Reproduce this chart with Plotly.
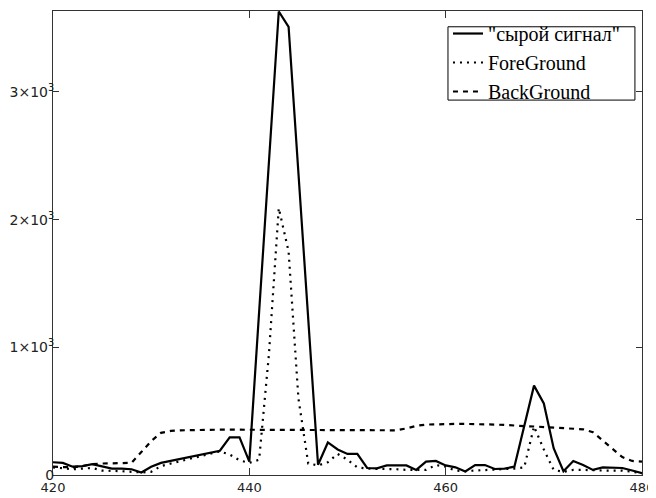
import plotly.graph_objects as go

x_vals = list(range(420, 481))

raw_signal = [100, 95, 65, 70, 85, 65, 50, 50, 45, 20,
              65, 95, 110, 125, 145, 160, 175, 190, 295, 295,
              105, 1290, 2460, 3630, 3510, 2370, 1220, 80, 255, 200,
              165, 165, 55, 52, 75, 75, 75, 40, 105, 110,
              75, 60, 28, 78, 78, 47, 50, 65, 380, 700,
              560, 210, 30, 110, 78, 40, 60, 60, 55, 35,
              15]

foreground = [60, 50, 45, 50, 55, 35, 35, 30, 25, 20,
              25, 70, 90, 110, 130, 150, 165, 185, 160, 115,
              95, 120, 950, 2090, 1750, 600, 90, 75, 100, 165,
              120, 60, 50, 50, 50, 45, 40, 40, 40, 78,
              65, 35, 30, 35, 38, 40, 45, 50, 60, 380,
              200, 40, 25, 40, 40, 35, 35, 35, 35, 25,
              13]

background = [65, 60, 60, 70, 85, 90, 90, 90, 95, 180,
              265, 330, 345, 350, 352, 355, 355, 355, 355, 355,
              355, 355, 355, 355, 355, 355, 355, 355, 355, 350,
              350, 350, 350, 350, 350, 350, 365, 385, 395, 398,
              400, 400, 400, 400, 398, 395, 392, 385, 383, 380,
              375, 372, 368, 362, 358, 335, 270, 200, 140, 110,
              105]

series_names = ['"сырой сигнал"', "ForeGround", "BackGround"]

x_tick_vals = [420, 440, 460, 480]
x_tick_text = ["420", "440", "460", "480"]
y_tick_vals = [0, 1000, 2000, 3000]
y_tick_text = ["0", "1×10<sup>3</sup>", "2×10<sup>3</sup>", "3×10<sup>3</sup>"]

fig = go.Figure()
fig.add_trace(go.Scatter(x=x_vals, y=raw_signal, mode="lines", name=series_names[0],
                         line=dict(color="black", width=2.2)))
fig.add_trace(go.Scatter(x=x_vals, y=foreground, mode="lines", name=series_names[1],
                         line=dict(color="black", width=2.2, dash="2px,5px")))
fig.add_trace(go.Scatter(x=x_vals, y=background, mode="lines", name=series_names[2],
                         line=dict(color="black", width=2.2, dash="5px,5px")))

# legend frame drawn as a shape (paper coordinates)
fig.add_shape(type="rect", xref="paper", yref="paper",
              x0=0.6706, x1=0.988, y0=0.808, y1=0.966,
              line=dict(color="black", width=1), fillcolor="white", layer="below")

fig.update_layout(
    width=648, height=490,
    margin=dict(l=45, r=14, t=3, b=23, autoexpand=False),
    paper_bgcolor="white", plot_bgcolor="rgba(0,0,0,0)",
    showlegend=True,
    legend=dict(x=0.6706, y=0.9935, xanchor="left", yanchor="top",
                bgcolor="rgba(0,0,0,0)", borderwidth=0,
                font=dict(family="Liberation Serif", size=20, color="black"),
                tracegroupgap=0, itemwidth=30),
    font=dict(family="DejaVu Sans", size=13, color="#222"),
)
fig.update_xaxes(range=[420, 480], tickvals=x_tick_vals, ticktext=x_tick_text,
                 automargin=False,
                 showgrid=False, zeroline=False, showline=True, linecolor="#333",
                 linewidth=1, mirror="ticks", ticks="inside", ticklen=7,
                 tickcolor="#333", tickfont=dict(family="DejaVu Sans", size=13, color="#222"))
fig.update_yaxes(range=[0, 3634], tickvals=y_tick_vals, ticktext=y_tick_text,
                 automargin=False, ticklabelstandoff=-5,
                 showgrid=False, zeroline=False, showline=True, linecolor="#333",
                 linewidth=1, mirror="ticks", ticks="inside", ticklen=6,
                 tickcolor="#333", tickfont=dict(family="DejaVu Sans", size=14, color="#222"))

fig.write_html("out.html")
